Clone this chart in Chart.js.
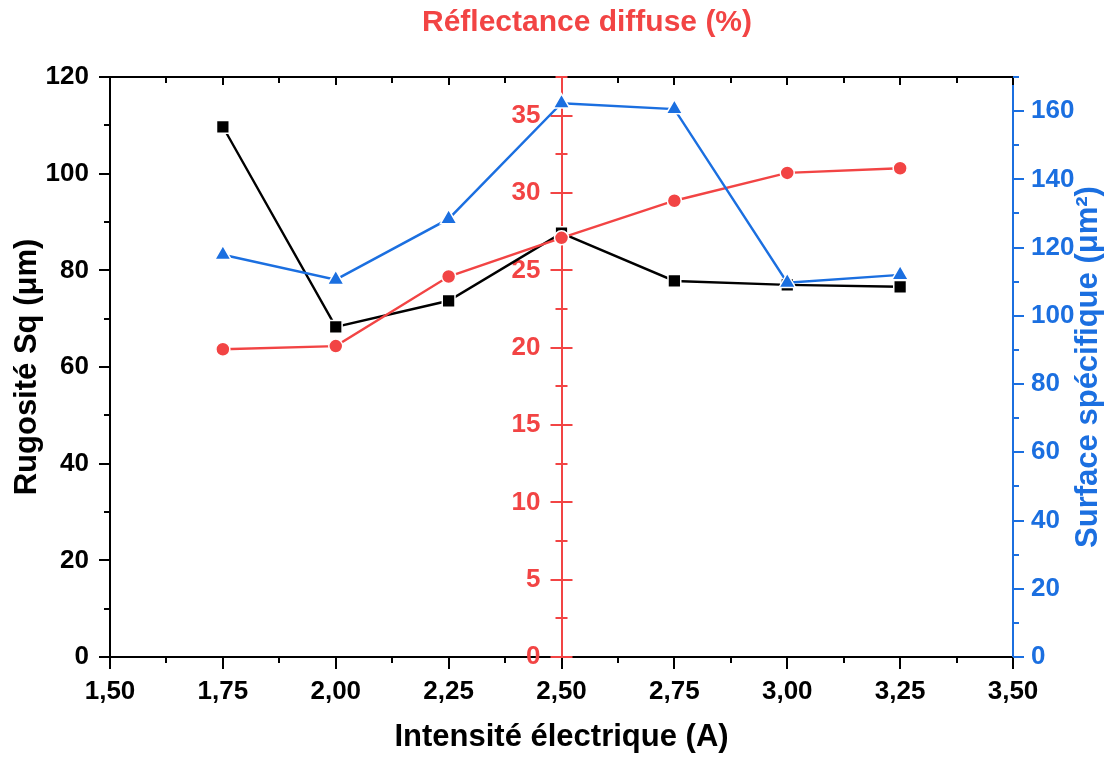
<!DOCTYPE html>
<html>
<head>
<meta charset="utf-8">
<script src="https://cdn.jsdelivr.net/npm/chart.js@4.4.1/dist/chart.umd.min.js"></script>
<style>
  html, body { margin: 0; padding: 0; background: #fff; }
  #wrap { width: 1106px; height: 757px; }
</style>
</head>
<body>
<div id="wrap"><canvas id="chart1"></canvas></div>
<script>
// data
var intensite = [1.75, 2.00, 2.25, 2.50, 2.75, 3.00, 3.25];
var rugosite = [109.7, 68.3, 73.7, 87.7, 77.8, 77.0, 76.6];      // µm, left axis
var reflectance = [19.9, 20.1, 24.6, 27.1, 29.5, 31.3, 31.6];     // %, middle axis
var surface = [117.9, 110.6, 128.4, 162.3, 160.6, 109.7, 112.0];  // µm², right axis

var RED = '#f24444';
var BLUE = '#1b6fe0';
var FONT = "'Liberation Sans', Arial, sans-serif";
var TICKFONT = { family: FONT, size: 26, weight: 'bold' };
var TITLEFONT = { family: FONT, size: 31, weight: 'bold', lineHeight: 1 };

function pts(ys) {
    return intensite.map(function (x, i) { return { x: x, y: ys[i] }; });
}

function fmt(v) {
    return Number(v).toFixed(2).replace('.', ',');
}

// tick marks (major + minor), frame top line, red labels, extra titles
var axisDecor = {
    id: 'axisDecor',
    beforeDatasetsDraw: function (chart) {
        var ctx = chart.ctx;
        var a = chart.chartArea;
        var sx = chart.scales.x, sy = chart.scales.y, sr = chart.scales.yR, sb = chart.scales.yB;
        var xr = sx.getPixelForValue(2.5);
        var v, p, len;
        ctx.save();
        ctx.lineWidth = 2;

        // top frame
        ctx.strokeStyle = '#000';
        ctx.beginPath();
        ctx.moveTo(a.left, a.top); ctx.lineTo(a.right, a.top);
        ctx.stroke();

        ctx.beginPath();
        for (v = 1.5; v <= 3.5001; v += 0.125) {
            p = Math.round(sx.getPixelForValue(v));
            var major = Math.abs(v / 0.25 - Math.round(v / 0.25)) < 1e-6;
            ctx.moveTo(p, a.bottom); ctx.lineTo(p, a.bottom + (major ? 12 : 6));
            if (Math.abs(p - xr) > 2) {
                ctx.moveTo(p, a.top); ctx.lineTo(p, a.top + (major ? 8 : 6));
            }
        }
        for (v = 0; v <= 120; v += 10) {
            p = Math.round(sy.getPixelForValue(v));
            len = (v % 20 === 0) ? 11 : 6;
            ctx.moveTo(a.left, p); ctx.lineTo(a.left - len, p);
        }
        ctx.stroke();

        // middle red axis, ticks crossing, labels on the left
        ctx.strokeStyle = RED;
        ctx.beginPath();
        for (v = 0; v <= 37.5; v += 2.5) {
            p = Math.round(sr.getPixelForValue(v));
            len = (v % 5 === 0) ? 11 : 6;
            ctx.moveTo(xr - len, p); ctx.lineTo(xr + len, p);
        }
        ctx.stroke();
        ctx.fillStyle = RED;
        ctx.font = 'bold 26px ' + FONT;
        ctx.textAlign = 'right';
        ctx.textBaseline = 'middle';
        sr.ticks.forEach(function (t) {
            ctx.fillText(String(t.value), xr - 21, sr.getPixelForValue(t.value));
        });

        // right blue axis
        ctx.strokeStyle = BLUE;
        ctx.beginPath();
        for (v = 0; v <= 170; v += 10) {
            p = Math.round(sb.getPixelForValue(v));
            len = (v % 20 === 0) ? 11 : 6;
            ctx.moveTo(a.right, p); ctx.lineTo(a.right + len, p);
        }
        ctx.stroke();
        ctx.restore();
    },
    afterDraw: function (chart) {
        var ctx = chart.ctx;
        var a = chart.chartArea;
        ctx.save();
        ctx.font = 'bold 30px ' + FONT;
        ctx.textAlign = 'center';
        ctx.textBaseline = 'middle';
        ctx.fillStyle = RED;
        ctx.fillText('Réflectance diffuse (%)', 587, 23);

        ctx.translate(1088, (a.top + a.bottom) / 2);
        ctx.rotate(-Math.PI / 2);
        ctx.fillStyle = BLUE;
        ctx.font = 'bold 31px ' + FONT;
        ctx.fillText('Surface spécifique (μm²)', 0, 0);
        ctx.restore();
    }
};

var ctx1 = document.getElementById('chart1').getContext('2d');
var chart1 = new Chart(ctx1, {
    type: 'line',
    data: {
        datasets: [{
            label: 'Rugosité Sq',
            data: pts(rugosite),
            yAxisID: 'y',
            borderColor: '#000',
            backgroundColor: '#000',
            pointBackgroundColor: '#000',
            pointStyle: 'rect',
            pointRadius: 9,
            order: 3
        }, {
            label: 'Réflectance diffuse',
            data: pts(reflectance),
            yAxisID: 'yR',
            borderColor: RED,
            backgroundColor: RED,
            pointBackgroundColor: RED,
            pointStyle: 'circle',
            pointRadius: 7,
            order: 2
        }, {
            label: 'Surface spécifique',
            data: pts(surface),
            yAxisID: 'yB',
            borderColor: BLUE,
            backgroundColor: BLUE,
            pointBackgroundColor: BLUE,
            pointStyle: 'triangle',
            pointRadius: 9.5,
            order: 1
        }]
    },
    options: {
        responsive: true,
        maintainAspectRatio: false,
        animation: false,
        layout: { padding: { top: 77 } },
        elements: {
            line: { borderWidth: 2.4, tension: 0 }
        },
        datasets: {
            line: { pointBorderColor: '#fff', pointBorderWidth: 1.5 }
        },
        plugins: {
            legend: { display: false },
            tooltip: { enabled: false },
            title: { display: false }
        },
        scales: {
            x: {
                type: 'linear',
                position: 'bottom',
                min: 1.5,
                max: 3.5,
                afterFit: function (s) { s.height = 100; },
                ticks: {
                    stepSize: 0.25,
                    color: '#000',
                    padding: 19,
                    maxRotation: 0,
                    font: TICKFONT,
                    callback: function (v) { return fmt(v); }
                },
                grid: { drawOnChartArea: false, drawTicks: false },
                border: { color: '#000', width: 2 },
                title: {
                    display: true,
                    text: 'Intensité électrique (A)',
                    color: '#000',
                    font: TITLEFONT,
                    padding: { top: 0, bottom: 4 }
                }
            },
            y: {
                position: 'left',
                min: 0,
                max: 120,
                afterFit: function (s) { s.width = 110; },
                ticks: {
                    stepSize: 20,
                    color: '#000',
                    padding: 21,
                    font: TICKFONT
                },
                grid: { drawOnChartArea: false, drawTicks: false },
                border: { color: '#000', width: 2 },
                title: {
                    display: true,
                    text: 'Rugosité Sq (μm)',
                    color: '#000',
                    font: TITLEFONT,
                    padding: { top: 12, bottom: 0 }
                }
            },
            yR: {
                position: { x: 2.5 },
                min: 0,
                max: 37.5,
                ticks: {
                    display: false,
                    stepSize: 5,
                    includeBounds: false
                },
                grid: { drawOnChartArea: false, drawTicks: false },
                border: { color: RED, width: 2 }
            },
            yB: {
                position: 'right',
                min: 0,
                max: 170,
                afterFit: function (s) { s.width = 93; },
                ticks: {
                    stepSize: 20,
                    includeBounds: false,
                    color: BLUE,
                    padding: 18,
                    font: TICKFONT
                },
                grid: { drawOnChartArea: false, drawTicks: false },
                border: { color: BLUE, width: 2 }
            }
        }
    },
    plugins: [axisDecor]
});
</script>
</body>
</html>
